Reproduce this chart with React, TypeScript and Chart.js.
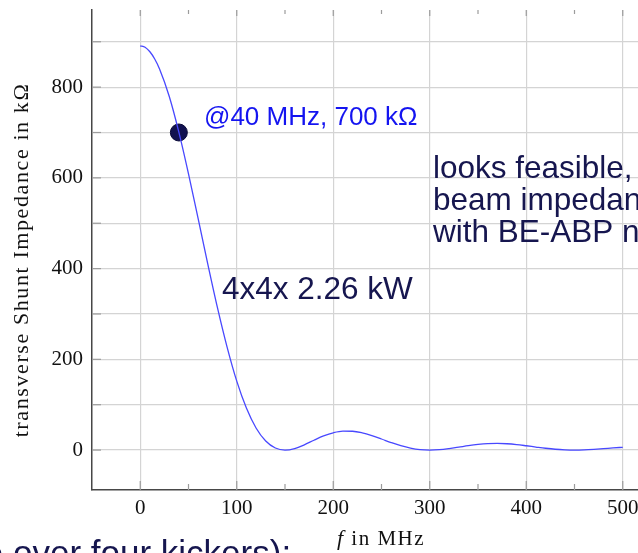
import React, { useEffect, useRef } from "react";
import { Chart, registerables } from "chart.js";

Chart.register(...registerables);

// Frequency in MHz
const freqMHz = [
  0, 5, 10, 15, 20, 30, 40, 50, 60, 70, 80, 90, 100, 110, 120, 130, 140, 150,
  160, 170, 180, 190, 200, 210, 220, 230, 240, 250, 260, 270, 280, 290, 300,
  310, 320, 330, 340, 350, 360, 370, 380, 390, 400, 410, 420, 430, 440, 450,
  460, 470, 480, 490, 500,
];
// transverse shunt impedance in kΩ
const shuntImpedance = [
  891, 888, 878, 862, 840, 780, 701, 609, 510, 410, 314, 227, 152, 92.7, 48.7, 19.9, 4.5, 0,
  3.4, 11.6, 21.7, 31.1, 38.1, 41.7, 41.5, 38.0, 31.9, 24.4, 16.6, 9.6, 4.3, 1.0, 0,
  0.9, 3.3, 6.4, 9.7, 12.4, 14.2, 14.7, 13.9, 12.1, 9.5, 6.7, 4.0, 1.8, 0.5, 0,
  0.4, 1.5, 3.0, 4.7, 6.1,
];
// highlighted operating point
const markerFreq = [40];
const markerImpedance = [700];

// ticks
const xTickValues = [0, 100, 200, 300, 400, 500];
const xMinorTickValues = [0, 50, 100, 150, 200, 250, 300, 350, 400, 450, 500];
const yTickValues = [0, 100, 200, 300, 400, 500, 600, 700, 800, 900];
const yLabelValues = [0, 200, 400, 600, 800];

const yTitle = "transverse Shunt Impedance in kΩ";
const xTitleVar = "f";
const xTitleRest = " in MHz";
const markerLabel = "@40 MHz, 700 kΩ";
const powerLabel = "4x4x 2.26 kW";
const noteLines = ["looks feasible, but", "beam impedance", "with BE-ABP needed"];
const bottomText = "e over four kickers):";

const NAVY = "#16164f";
const SERIF = "'Liberation Serif', 'Times New Roman', serif";
const SANS = "'Liberation Sans', Arial, sans-serif";

const overlayPlugin = {
  id: "overlay",
  beforeDatasetsDraw(chart: any) {
    const { ctx, chartArea: a, scales } = chart;
    const x = scales.x;
    const y = scales.y;
    ctx.save();
    ctx.strokeStyle = "#9c9c9c";
    ctx.lineWidth = 1.2;
    for (const v of xMinorTickValues) {
      const px = x.getPixelForValue(v);
      const major = v % 100 === 0;
      ctx.beginPath();
      ctx.moveTo(px, a.bottom);
      ctx.lineTo(px, a.bottom - (major ? 9 : 6));
      ctx.moveTo(px, a.top);
      ctx.lineTo(px, a.top + (major ? 6 : 4));
      ctx.stroke();
    }
    for (const v of yTickValues) {
      const py = y.getPixelForValue(v);
      ctx.beginPath();
      ctx.moveTo(a.left, py);
      ctx.lineTo(a.left + 9, py);
      ctx.stroke();
    }
    ctx.restore();
  },
  afterDraw(chart: any) {
    const { ctx } = chart;
    ctx.save();
    // y-axis title
    ctx.save();
    ctx.translate(28, 260);
    ctx.rotate(-Math.PI / 2);
    ctx.font = `22px ${SERIF}`;
    (ctx as any).letterSpacing = "1.6px";
    ctx.fillStyle = "#111";
    ctx.textAlign = "center";
    ctx.textBaseline = "alphabetic";
    ctx.fillText(yTitle, 0, 0);
    ctx.restore();

    // x-axis title
    ctx.save();
    (ctx as any).letterSpacing = "1.5px";
    ctx.fillStyle = "#111";
    ctx.textBaseline = "alphabetic";
    ctx.textAlign = "left";
    ctx.font = `italic 22px ${SERIF}`;
    const wf = ctx.measureText(xTitleVar).width;
    ctx.font = `21px ${SERIF}`;
    const wr = ctx.measureText(xTitleRest).width;
    const start = 381 - (wf + wr) / 2;
    ctx.font = `italic 22px ${SERIF}`;
    ctx.fillText(xTitleVar, start, 545);
    ctx.font = `21px ${SERIF}`;
    ctx.fillText(xTitleRest, start + wf, 545);
    ctx.restore();

    ctx.textAlign = "left";
    ctx.textBaseline = "alphabetic";
    // marker annotation
    ctx.fillStyle = "#1414f0";
    ctx.font = `26px ${SANS}`;
    ctx.fillText(markerLabel, 204, 125);

    // power annotation
    ctx.fillStyle = NAVY;
    ctx.font = `31.5px ${SANS}`;
    ctx.fillText(powerLabel, 222, 299);

    // note lines
    ctx.font = `31.5px ${SANS}`;
    noteLines.forEach((t, i) => ctx.fillText(t, 433, 178 + i * 31.8));

    // bottom slide text (cropped)
    ctx.font = `35px ${SANS}`;
    const off = ctx.measureText("e ").width;
    ctx.fillText(bottomText, 13 - off, 565);
    ctx.restore();
  },
};

export default function App() {
  const canvasRef = useRef<HTMLCanvasElement | null>(null);

  useEffect(() => {
    const canvas = canvasRef.current;
    if (!canvas) return;
    const curve = freqMHz.map((f, i) => ({ x: f, y: shuntImpedance[i] }));
    const marker = markerFreq.map((f, i) => ({ x: f, y: markerImpedance[i] }));
    const tickFont = { family: SERIF, size: 21 };

    const chart = new Chart(canvas, {
      type: "line",
      data: {
        datasets: [
          {
            data: curve,
            borderColor: "#4848ff",
            borderWidth: 1.3,
            pointRadius: 0,
            fill: false,
            cubicInterpolationMode: "monotone",
          },
          {
            data: marker,
            showLine: false,
            pointRadius: 8.5,
            pointBackgroundColor: "#111150",
            pointBorderColor: "#0a0a38",
            pointBorderWidth: 1,
          },
        ],
      },
      options: {
        responsive: false,
        animation: false,
        devicePixelRatio: 1,
        layout: { padding: { left: 0, top: 10, right: 29, bottom: 0 } },
        plugins: {
          legend: { display: false },
          tooltip: { enabled: false },
          title: { display: false },
        },
        scales: {
          x: {
            type: "linear",
            min: -50,
            max: 550,
            afterBuildTicks: (s: any) => {
              s.ticks = xTickValues.map((v) => ({ value: v }));
            },
            afterFit: (s: any) => {
              s.height = 63;
              s.paddingLeft = 0;
              s.paddingRight = 0;
            },
            grid: { color: "#d4d4d4", lineWidth: 1.2, drawTicks: false },
            border: { display: true, color: "#474747", width: 1.5 },
            ticks: {
              font: tickFont,
              color: "#111",
              padding: 6,
              maxRotation: 0,
              autoSkip: false,
              callback: (v: any) => String(v),
            },
          },
          y: {
            type: "linear",
            min: -88,
            max: 970,
            afterBuildTicks: (s: any) => {
              s.ticks = yTickValues.map((v) => ({ value: v }));
            },
            afterFit: (s: any) => {
              s.width = 92;
              s.paddingTop = 0;
              s.paddingBottom = 0;
            },
            grid: { color: "#d4d4d4", lineWidth: 1.2, drawTicks: false },
            border: { display: true, color: "#474747", width: 1.5 },
            ticks: {
              font: tickFont,
              color: "#111",
              padding: 9,
              autoSkip: false,
              callback: (v: any) => (yLabelValues.includes(v) ? String(v) : ""),
            },
          },
        },
      },
      plugins: [overlayPlugin],
    } as any);

    return () => chart.destroy();
  }, []);

  return (
    <div
      style={{
        position: "fixed",
        left: 0,
        top: 0,
        width: 638,
        height: 553,
        overflow: "hidden",
        background: "#fff",
      }}
    >
      <canvas ref={canvasRef} width={700} height={553} style={{ display: "block" }} />
    </div>
  );
}
